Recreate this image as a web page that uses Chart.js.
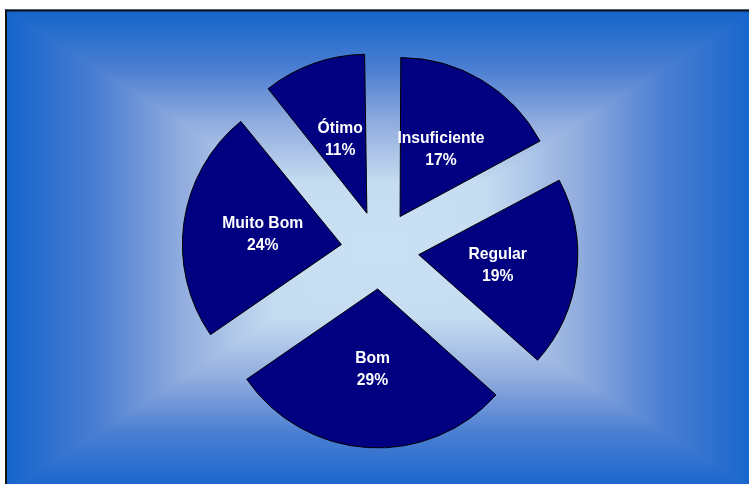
<!DOCTYPE html>
<html>
<head>
<meta charset="utf-8">
<script src="https://cdn.jsdelivr.net/npm/chart.js@4.4.1/dist/chart.umd.min.js"></script>
<style>
  html, body { margin: 0; padding: 0; background: #fff; }
  #wrap { width: 749px; height: 484px; }
</style>
</head>
<body>
<div id="wrap"><canvas id="pieChart" width="749" height="484"></canvas></div>
<script>
const categories = ["Insuficiente", "Regular", "Bom", "Muito Bom", "Ótimo"];
const shares = [17.2, 19.4, 28.8, 23.7, 10.9];

const RADIUS = 159;
const EXPLODE = 39; // px each slice is pulled out

// rectangular "from center" gradient like the original sheet background
const backgroundPlugin = {
    id: 'background',
    beforeDraw(chart) {
        const ctx = chart.ctx;
        const L = 6, T = 10, R = 756, B = 492;
        const cx = 380, cy = 250;
        ctx.save();
        ctx.fillStyle = '#fff';
        ctx.fillRect(0, 0, chart.width, chart.height);
        ctx.fillStyle = 'rgb(120,155,216)';
        ctx.fillRect(L, T, R - L, B - T);

        const stops = [
            [0, 'rgb(20,100,204)'],
            [0.25, 'rgb(76,127,210)'],
            [0.47, 'rgb(145,172,222)'],
            [0.72, 'rgb(198,220,241)'],
            [1, 'rgb(202,224,243)']
        ];
        const tri = (pts, x0, y0, x1, y1) => {
            const g = ctx.createLinearGradient(x0, y0, x1, y1);
            stops.forEach(s => g.addColorStop(s[0], s[1]));
            ctx.beginPath();
            ctx.moveTo(pts[0][0], pts[0][1]);
            ctx.lineTo(pts[1][0], pts[1][1]);
            ctx.lineTo(pts[2][0], pts[2][1]);
            ctx.closePath();
            ctx.fillStyle = g;
            ctx.strokeStyle = g;
            ctx.lineWidth = 1.2;
            ctx.fill();
            ctx.stroke();
        };
        tri([[L, T], [R, T], [cx, cy]], 0, T, 0, cy);
        tri([[L, B], [R, B], [cx, cy]], 0, B, 0, cy);
        tri([[L, T], [L, B], [cx, cy]], L, 0, cx, 0);
        tri([[R, T], [R, B], [cx, cy]], R, 0, cx, 0);

        ctx.strokeStyle = '#111';
        ctx.lineWidth = 2;
        ctx.strokeRect(L, T + 0.5, R - L, B - T);
        ctx.restore();
    }
};

// keep every exploded slice at the same radius (Chart.js enlarges narrow ones)
const equalRadiusPlugin = {
    id: 'equalRadius',
    beforeDatasetDraw(chart, args) {
        args.meta.data.forEach(arc => {
            const off = (arc.options.offset || 0) / 4;
            const fix = 1 - Math.sin(Math.min(Math.PI, arc.circumference));
            arc.outerRadius = RADIUS - off * fix;
        });
    }
};

const labelPlugin = {
    id: 'sliceLabels',
    afterDatasetsDraw(chart) {
        const ctx = chart.ctx;
        const meta = chart.getDatasetMeta(0);
        const values = chart.data.datasets[0].data;
        const total = values.reduce((a, b) => a + b, 0);
        ctx.save();
        ctx.fillStyle = '#fff';
        ctx.font = 'bold 15.7px "Liberation Sans", Arial, sans-serif';
        ctx.textAlign = 'center';
        ctx.textBaseline = 'middle';
        meta.data.forEach((arc, i) => {
            const half = (arc.startAngle + arc.endAngle) / 2;
            const dist = EXPLODE + RADIUS / 2;
            const x = arc.x + Math.cos(half) * dist;
            const y = arc.y + Math.sin(half) * dist + 1.5;
            const pct = Math.round(values[i] / total * 100) + '%';
            ctx.fillText(chart.data.labels[i], x, y - 11);
            ctx.fillText(pct, x, y + 11);
        });
        ctx.restore();
    }
};

const ctx = document.getElementById('pieChart').getContext('2d');
new Chart(ctx, {
    type: 'pie',
    data: {
        labels: categories,
        datasets: [{
            data: shares,
            backgroundColor: '#000080',
            borderColor: '#000',
            borderWidth: 1,
            offset: EXPLODE * 4,
            hoverOffset: 0
        }]
    },
    options: {
        responsive: false,
        animation: false,
        events: [],
        radius: RADIUS,
        layout: { padding: { left: 11, top: 16, right: 0, bottom: 0 } },
        plugins: {
            legend: { display: false },
            tooltip: { enabled: false }
        }
    },
    plugins: [backgroundPlugin, equalRadiusPlugin, labelPlugin]
});
</script>
</body>
</html>
